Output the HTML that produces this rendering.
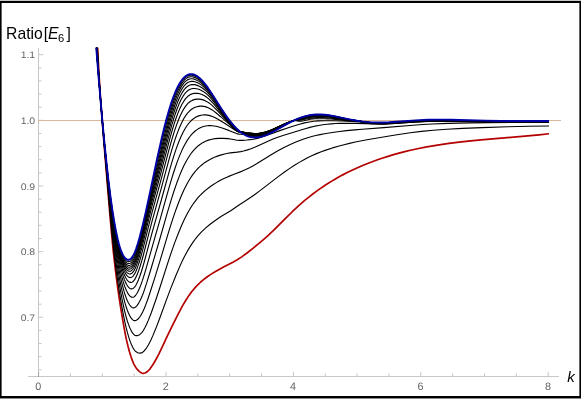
<!DOCTYPE html>
<html><head><meta charset="utf-8"><title>Ratio[E6]</title>
<style>
html,body{margin:0;padding:0;background:#fff;overflow:hidden}
body{width:581px;height:399px;position:relative;font-family:"Liberation Sans",sans-serif}
</style></head><body>
<svg width="581" height="399" viewBox="0 0 581 399" style="display:block;position:absolute;left:0;top:0;will-change:transform">
<rect x="0" y="0" width="581" height="399" fill="#fff"/>
<g stroke="#666" stroke-opacity="0.37" stroke-width="1" fill="none" shape-rendering="crispEdges">
<line x1="28" y1="376.5" x2="559" y2="376.5"/>
<line x1="38.5" y1="48" x2="38.5" y2="376.5"/>
</g>
<g stroke="#666" stroke-opacity="0.37" stroke-width="1" fill="none">
<line x1="38.60" y1="376.0" x2="38.60" y2="371.8"/>
<line x1="70.45" y1="376.0" x2="70.45" y2="373.4"/>
<line x1="102.30" y1="376.0" x2="102.30" y2="373.4"/>
<line x1="134.15" y1="376.0" x2="134.15" y2="373.4"/>
<line x1="166.00" y1="376.0" x2="166.00" y2="371.8"/>
<line x1="197.85" y1="376.0" x2="197.85" y2="373.4"/>
<line x1="229.70" y1="376.0" x2="229.70" y2="373.4"/>
<line x1="261.55" y1="376.0" x2="261.55" y2="373.4"/>
<line x1="293.40" y1="376.0" x2="293.40" y2="371.8"/>
<line x1="325.25" y1="376.0" x2="325.25" y2="373.4"/>
<line x1="357.10" y1="376.0" x2="357.10" y2="373.4"/>
<line x1="388.95" y1="376.0" x2="388.95" y2="373.4"/>
<line x1="420.80" y1="376.0" x2="420.80" y2="371.8"/>
<line x1="452.65" y1="376.0" x2="452.65" y2="373.4"/>
<line x1="484.50" y1="376.0" x2="484.50" y2="373.4"/>
<line x1="516.35" y1="376.0" x2="516.35" y2="373.4"/>
<line x1="548.20" y1="376.0" x2="548.20" y2="371.8"/>
<line x1="39.0" y1="369.82" x2="41.6" y2="369.82"/>
<line x1="39.0" y1="356.69" x2="41.6" y2="356.69"/>
<line x1="39.0" y1="343.56" x2="41.6" y2="343.56"/>
<line x1="39.0" y1="330.43" x2="41.6" y2="330.43"/>
<line x1="39.0" y1="317.30" x2="43.2" y2="317.30"/>
<line x1="39.0" y1="304.17" x2="41.6" y2="304.17"/>
<line x1="39.0" y1="291.04" x2="41.6" y2="291.04"/>
<line x1="39.0" y1="277.91" x2="41.6" y2="277.91"/>
<line x1="39.0" y1="264.78" x2="41.6" y2="264.78"/>
<line x1="39.0" y1="251.65" x2="43.2" y2="251.65"/>
<line x1="39.0" y1="238.52" x2="41.6" y2="238.52"/>
<line x1="39.0" y1="225.39" x2="41.6" y2="225.39"/>
<line x1="39.0" y1="212.26" x2="41.6" y2="212.26"/>
<line x1="39.0" y1="199.13" x2="41.6" y2="199.13"/>
<line x1="39.0" y1="186.00" x2="43.2" y2="186.00"/>
<line x1="39.0" y1="172.87" x2="41.6" y2="172.87"/>
<line x1="39.0" y1="159.74" x2="41.6" y2="159.74"/>
<line x1="39.0" y1="146.61" x2="41.6" y2="146.61"/>
<line x1="39.0" y1="133.48" x2="41.6" y2="133.48"/>
<line x1="39.0" y1="120.35" x2="43.2" y2="120.35"/>
<line x1="39.0" y1="107.22" x2="41.6" y2="107.22"/>
<line x1="39.0" y1="94.09" x2="41.6" y2="94.09"/>
<line x1="39.0" y1="80.96" x2="41.6" y2="80.96"/>
<line x1="39.0" y1="67.83" x2="41.6" y2="67.83"/>
<line x1="39.0" y1="54.70" x2="43.2" y2="54.70"/>
</g>
<line x1="38" y1="120.5" x2="561" y2="120.5" stroke="#d8b898" stroke-width="1" shape-rendering="crispEdges"/>
<g fill="none" stroke-linejoin="round" stroke-linecap="butt">
<path d="M97.67,47.70 L98.30,61.29 L99.10,75.88 L100.05,91.02 L101.15,106.84 L103.60,138.58 L109.20,206.50 L111.30,230.76 L113.25,250.82 L115.25,268.75 L117.45,285.84 L118.95,296.33 L120.60,307.10 L122.45,318.43 L124.15,328.21 L125.45,335.01 L126.70,340.86 L128.00,346.27 L129.40,351.45 L130.95,356.53 L132.30,360.40 L133.65,363.59 L135.10,366.32 L135.95,367.65 L136.85,368.87 L137.75,369.93 L138.75,370.95 L139.85,371.90 L140.80,372.58 L141.65,373.02 L142.50,373.28 L143.65,373.30 L144.95,372.96 L146.35,372.24 L147.75,371.21 L149.00,370.02 L150.20,368.61 L151.45,366.87 L153.15,364.26 L155.80,359.76 L158.55,354.54 L161.10,349.29 L167.15,336.31 L171.50,327.34 L178.00,314.31 L182.35,306.16 L186.15,299.76 L188.05,296.84 L189.95,294.12 L191.85,291.58 L193.80,289.16 L195.80,286.87 L197.80,284.76 L200.70,282.00 L203.85,279.35 L207.30,276.75 L211.15,274.14 L215.10,271.70 L219.50,269.18 L224.00,266.76 L232.90,262.14 L237.25,259.71 L241.75,256.85 L247.00,252.99 L253.50,247.87 L259.00,243.41 L264.00,239.21 L268.00,235.68 L273.75,230.22 L285.75,218.11 L292.00,211.99 L298.75,205.69 L304.75,200.45 L311.75,194.80 L318.75,189.61 L326.25,184.52 L333.75,179.89 L338.25,177.31 L342.75,174.87 L347.25,172.56 L352.00,170.25 L357.00,167.96 L362.00,165.79 L367.00,163.74 L372.25,161.71 L377.50,159.80 L382.75,158.01 L388.00,156.33 L393.50,154.68 L399.00,153.15 L404.75,151.65 L410.50,150.27 L416.25,148.99 L426.75,146.90 L437.50,145.06 L449.00,143.37 L461.25,141.85 L470.75,140.82 L481.00,139.83 L527.75,135.87 L539.00,134.82 L549.00,133.77" stroke="#b40000" stroke-width="1.7"/>
<path d="M97.37,47.70 L98.45,68.07 L99.95,90.85 L102.35,122.54 L105.00,154.73 L109.45,206.72 L111.55,229.60 L113.90,251.95 L115.10,262.00 L116.35,271.59 L117.65,280.75 L119.05,289.89 L120.55,299.00 L122.10,307.80 L123.60,315.81 L124.90,322.20 L126.20,327.90 L127.50,332.91 L128.90,337.62 L130.35,341.85 L131.75,345.36 L133.10,348.09 L134.40,350.06 L135.10,350.88 L135.80,351.55 L136.55,352.11 L137.30,352.54 L138.10,352.86 L138.90,353.06 L140.25,353.13 L141.45,352.88 L142.60,352.30 L143.80,351.30 L145.20,349.71 L146.75,347.56 L148.30,345.04 L149.80,342.24 L151.15,339.42 L152.95,335.38 L156.45,326.92 L159.65,318.54 L166.50,299.64 L170.65,288.63 L175.80,275.71 L180.15,265.60 L182.35,260.87 L184.50,256.53 L186.65,252.48 L188.85,248.64 L191.05,245.09 L193.25,241.83 L195.50,238.78 L197.85,235.88 L201.30,232.11 L205.20,228.40 L209.80,224.53 L214.85,220.70 L218.10,218.44 L221.40,216.31 L231.10,210.56 L239.40,204.76 L245.25,201.04 L249.75,198.03 L254.50,194.70 L260.00,190.67 L278.25,176.64 L285.25,171.48 L289.75,168.38 L294.50,165.30 L299.25,162.37 L303.50,159.93 L308.00,157.54 L312.25,155.49 L316.50,153.62 L321.25,151.74 L326.50,149.86 L332.50,147.91 L338.25,146.21 L344.00,144.67 L349.50,143.34 L355.25,142.07 L367.00,139.80 L393.75,135.30 L410.25,132.80 L421.50,131.40 L433.25,130.26 L446.75,129.26 L462.50,128.38 L482.25,127.57 L507.75,126.77 L528.50,126.29 L549.00,126.02" stroke="#000" stroke-width="1.12"/>
<path d="M97.26,47.70 L98.30,66.78 L99.80,89.18 L102.10,119.14 L104.45,147.40 L108.70,195.64 L110.90,219.20 L113.15,240.51 L115.40,258.70 L117.75,274.81 L120.35,290.10 L121.80,297.73 L123.35,305.30 L124.65,311.11 L125.85,315.87 L127.10,320.23 L128.40,324.15 L129.75,327.62 L131.15,330.63 L132.35,332.70 L133.55,334.21 L134.15,334.76 L134.75,335.17 L135.35,335.45 L136.00,335.62 L136.70,335.67 L137.45,335.58 L138.20,335.36 L138.95,335.01 L139.75,334.52 L140.55,333.89 L142.00,332.37 L143.35,330.45 L144.85,327.81 L146.50,324.46 L148.30,320.39 L151.30,312.70 L155.95,299.52 L159.75,288.05 L168.45,260.82 L171.65,251.36 L174.75,242.66 L178.15,233.70 L181.35,225.97 L184.50,219.10 L187.65,212.98 L190.95,207.33 L192.60,204.79 L194.30,202.37 L196.05,200.06 L197.80,197.93 L199.60,195.92 L201.45,194.02 L203.55,192.04 L205.75,190.14 L208.15,188.23 L210.75,186.31 L213.35,184.52 L215.95,182.86 L218.60,181.30 L221.30,179.85 L224.55,178.25 L228.15,176.64 L233.45,174.44 L242.25,171.11 L245.75,169.57 L249.50,167.75 L253.25,165.74 L257.00,163.56 L270.75,154.95 L277.00,151.24 L283.50,147.72 L290.25,144.50 L295.25,142.36 L299.75,140.55 L303.75,139.07 L307.75,137.74 L311.75,136.56 L315.75,135.54 L320.00,134.62 L324.50,133.77 L332.25,132.52 L339.50,131.50 L346.50,130.67 L354.75,129.86 L362.25,129.23 L383.75,127.63 L413.00,125.21 L422.75,124.52 L432.00,123.98 L448.00,123.35 L469.50,122.89 L523.00,122.21 L536.50,122.15 L549.00,122.21" stroke="#000" stroke-width="1.12"/>
<path d="M97.14,47.70 L98.25,67.17 L99.75,88.93 L102.10,118.94 L104.45,146.63 L108.15,187.44 L110.55,212.38 L112.70,232.25 L114.90,249.75 L117.10,264.62 L119.50,278.43 L120.80,285.06 L122.15,291.40 L123.55,297.44 L124.80,302.31 L125.95,306.24 L127.15,309.79 L128.35,312.83 L129.60,315.46 L130.85,317.61 L132.05,319.17 L133.20,320.17 L133.80,320.47 L134.35,320.63 L135.00,320.65 L135.65,320.53 L136.30,320.26 L137.00,319.84 L137.75,319.24 L138.50,318.50 L140.05,316.57 L141.45,314.36 L142.80,311.78 L144.25,308.52 L145.90,304.37 L147.70,299.46 L149.65,293.80 L154.75,277.94 L159.75,261.71 L168.05,233.80 L170.60,225.61 L172.95,218.39 L175.95,209.68 L178.80,202.03 L181.55,195.29 L184.25,189.33 L187.25,183.48 L188.80,180.76 L190.35,178.24 L191.90,175.90 L193.50,173.69 L195.10,171.66 L196.75,169.74 L198.45,167.95 L200.15,166.32 L201.95,164.76 L203.80,163.32 L205.75,161.95 L207.80,160.66 L210.00,159.42 L212.25,158.28 L215.15,156.99 L218.15,155.86 L221.35,154.85 L224.75,153.96 L227.95,153.27 L230.35,152.86 L237.20,152.14 L240.75,151.64 L243.50,151.04 L246.75,150.15 L251.00,148.75 L255.25,147.08 L259.25,145.31 L268.50,141.00 L273.00,139.08 L277.75,137.27 L283.00,135.48 L304.25,128.94 L310.75,127.12 L314.75,126.17 L318.50,125.44 L322.75,124.76 L327.00,124.24 L331.25,123.83 L335.75,123.53 L340.25,123.34 L345.00,123.25 L356.00,123.35 L374.75,123.84 L380.50,123.87 L385.75,123.79 L395.00,123.40 L412.50,122.28 L420.00,121.87 L428.50,121.56 L437.25,121.40 L452.50,121.39 L494.75,121.78 L532.50,121.80 L549.00,121.90" stroke="#000" stroke-width="1.12"/>
<path d="M97.02,47.70 L98.20,67.49 L99.75,89.32 L102.15,119.36 L104.50,146.50 L107.65,180.40 L110.20,206.16 L112.35,225.54 L114.50,242.30 L116.65,256.56 L118.95,269.46 L120.15,275.38 L121.40,281.01 L122.70,286.35 L124.00,291.18 L125.10,294.80 L126.20,297.93 L127.35,300.73 L128.50,303.06 L129.70,305.00 L130.90,306.47 L132.05,307.41 L132.65,307.71 L133.20,307.85 L133.80,307.87 L134.35,307.75 L134.95,307.48 L135.55,307.08 L136.80,305.84 L138.20,303.92 L139.60,301.51 L141.05,298.55 L142.45,295.24 L143.90,291.33 L146.85,282.41 L150.80,269.50 L158.75,242.73 L167.50,212.18 L171.65,198.36 L174.25,190.29 L176.75,183.06 L179.15,176.65 L181.55,170.82 L184.20,165.08 L186.90,159.99 L189.70,155.49 L191.10,153.50 L192.55,151.62 L194.05,149.86 L195.55,148.27 L197.10,146.80 L198.70,145.44 L200.35,144.20 L202.00,143.11 L203.70,142.14 L205.50,141.26 L208.50,140.11 L211.70,139.24 L215.05,138.67 L218.60,138.38 L223.15,138.36 L228.15,138.67 L230.50,138.99 L236.10,140.07 L237.90,140.27 L239.85,140.37 L242.50,140.34 L246.75,140.06 L250.25,139.68 L253.25,139.22 L258.25,138.11 L263.50,136.57 L268.50,134.84 L280.50,130.37 L286.00,128.41 L292.00,126.44 L299.50,124.19 L304.50,122.90 L309.25,121.93 L313.75,121.29 L318.25,120.93 L324.50,120.74 L332.75,120.80 L341.75,121.04 L352.75,121.51 L356.50,121.75 L359.50,122.05 L368.25,123.33 L371.75,123.75 L375.75,124.03 L380.25,124.15 L385.25,124.08 L391.50,123.77 L412.75,122.15 L420.75,121.64 L428.75,121.30 L436.75,121.14 L444.00,121.11 L452.50,121.20 L486.25,121.93 L501.50,122.16 L517.75,122.25 L549.00,122.27" stroke="#000" stroke-width="1.12"/>
<path d="M96.91,47.70 L98.15,67.71 L99.80,90.31 L102.20,119.79 L104.55,146.45 L107.35,175.96 L109.90,201.04 L112.00,219.55 L114.10,235.67 L116.15,249.13 L118.35,261.35 L119.50,266.94 L120.65,272.02 L121.80,276.63 L123.05,281.16 L124.15,284.72 L125.25,287.83 L126.40,290.56 L127.55,292.84 L128.70,294.63 L129.85,295.98 L131.00,296.87 L131.55,297.13 L132.10,297.28 L132.70,297.31 L133.25,297.22 L133.80,296.99 L134.35,296.64 L135.50,295.50 L136.75,293.71 L138.10,291.27 L139.50,288.24 L140.95,284.62 L142.45,280.40 L144.20,274.90 L146.50,267.08 L152.85,244.65 L160.40,218.44 L167.25,193.85 L170.65,182.09 L173.05,174.27 L175.35,167.26 L177.60,160.92 L179.75,155.37 L182.25,149.60 L184.70,144.68 L187.20,140.39 L189.75,136.74 L191.05,135.13 L192.40,133.63 L193.80,132.25 L195.20,131.03 L196.70,129.88 L198.25,128.86 L199.80,127.99 L201.35,127.26 L202.80,126.71 L204.30,126.27 L205.80,125.94 L207.35,125.72 L208.95,125.61 L210.55,125.62 L212.25,125.73 L214.00,125.96 L215.95,126.32 L218.05,126.82 L222.95,128.30 L228.75,130.40 L235.95,133.32 L237.70,133.87 L239.05,134.08 L242.00,134.27 L246.50,135.04 L250.00,135.28 L253.75,135.73 L255.50,135.79 L258.50,135.55 L261.50,135.00 L264.75,134.08 L268.00,132.90 L273.00,130.65 L286.50,123.76 L291.00,121.54 L292.75,120.84 L293.75,120.61 L294.75,120.56 L298.75,121.13 L300.00,121.19 L301.25,121.13 L303.75,120.74 L310.25,119.23 L312.50,118.92 L314.75,118.76 L317.75,118.69 L324.25,118.73 L327.75,118.83 L331.00,119.02 L347.00,120.68 L356.75,121.24 L359.50,121.47 L362.25,121.82 L369.00,122.85 L372.50,123.25 L376.25,123.52 L380.00,123.64 L385.25,123.60 L391.75,123.30 L413.00,121.70 L421.00,121.21 L428.50,120.90 L436.25,120.75 L443.50,120.74 L451.75,120.85 L485.25,121.72 L501.00,122.00 L518.25,122.11 L549.00,122.10" stroke="#000" stroke-width="1.12"/>
<path d="M96.80,47.70 L98.15,68.51 L99.85,91.20 L102.20,119.65 L104.55,145.95 L107.10,172.40 L109.60,196.49 L111.70,214.67 L113.75,230.20 L115.75,243.22 L117.80,254.56 L119.95,264.51 L121.05,268.90 L122.20,273.01 L123.35,276.68 L124.45,279.76 L125.55,282.37 L126.65,284.51 L127.80,286.31 L128.90,287.58 L130.05,288.46 L130.60,288.72 L131.15,288.87 L131.75,288.90 L132.35,288.80 L132.95,288.56 L133.50,288.22 L134.60,287.13 L135.75,285.45 L137.00,283.09 L138.40,279.92 L139.80,276.26 L141.25,271.99 L142.65,267.47 L144.15,262.23 L152.25,232.15 L160.85,201.75 L169.85,169.09 L172.15,161.31 L174.25,154.63 L176.35,148.43 L178.35,143.02 L180.70,137.31 L183.00,132.42 L185.30,128.26 L187.60,124.80 L188.80,123.25 L190.05,121.81 L191.30,120.54 L192.55,119.43 L193.85,118.44 L195.20,117.55 L196.60,116.79 L198.10,116.12 L199.60,115.59 L201.10,115.21 L202.65,114.96 L204.20,114.86 L205.75,114.90 L207.35,115.08 L208.95,115.40 L210.60,115.87 L212.35,116.50 L214.25,117.32 L218.45,119.54 L224.95,123.53 L233.70,129.27 L234.85,129.94 L235.95,130.45 L239.50,131.74 L243.00,133.14 L244.75,133.66 L246.50,133.90 L250.25,133.96 L253.50,134.43 L255.00,134.53 L257.75,134.37 L261.25,133.80 L264.50,133.00 L268.00,131.85 L270.50,130.87 L273.00,129.77 L281.75,125.56 L286.00,123.61 L291.00,121.40 L292.75,120.77 L293.75,120.54 L294.50,120.47 L297.50,120.55 L298.75,120.46 L310.00,118.28 L313.50,117.83 L317.00,117.58 L319.75,117.51 L322.75,117.56 L329.00,117.97 L334.00,118.52 L347.50,120.25 L359.75,121.41 L371.00,122.88 L375.50,123.27 L380.00,123.46 L385.25,123.43 L391.50,123.15 L413.00,121.54 L421.00,121.04 L428.50,120.74 L436.25,120.59 L443.50,120.60 L451.50,120.72 L485.25,121.63 L501.00,121.92 L518.50,122.04 L549.00,122.02" stroke="#000" stroke-width="1.12"/>
<path d="M96.71,47.70 L98.10,68.44 L99.90,92.02 L102.25,120.11 L104.55,145.56 L106.95,170.14 L109.35,192.88 L111.40,210.40 L113.45,225.79 L115.40,238.42 L117.40,249.46 L119.45,258.92 L120.50,263.10 L121.60,267.01 L122.70,270.48 L123.80,273.52 L124.85,276.01 L125.85,277.97 L127.00,279.78 L128.10,281.08 L129.25,281.97 L129.85,282.25 L130.40,282.40 L131.00,282.43 L131.55,282.34 L132.15,282.10 L132.75,281.74 L133.85,280.71 L134.95,279.13 L136.15,276.85 L137.45,273.84 L138.80,270.23 L140.25,265.85 L141.85,260.50 L143.50,254.50 L149.45,231.23 L152.50,219.69 L161.10,188.87 L169.25,158.67 L171.40,151.14 L173.40,144.54 L175.30,138.70 L177.20,133.33 L179.40,127.72 L181.55,122.91 L183.70,118.78 L185.85,115.34 L186.95,113.84 L188.05,112.51 L189.20,111.29 L190.35,110.22 L191.55,109.26 L192.75,108.46 L194.00,107.78 L195.30,107.21 L196.85,106.71 L198.50,106.35 L200.10,106.17 L201.75,106.16 L203.35,106.32 L205.00,106.65 L206.60,107.13 L208.25,107.79 L210.00,108.67 L211.85,109.78 L213.80,111.12 L215.95,112.76 L220.35,116.45 L233.35,127.93 L235.35,129.54 L236.90,130.57 L237.80,131.01 L238.70,131.32 L241.75,131.84 L246.00,133.00 L250.00,133.36 L253.25,133.82 L254.50,133.93 L257.25,133.83 L260.75,133.34 L264.00,132.60 L267.50,131.54 L270.25,130.52 L273.00,129.36 L282.25,125.07 L286.50,123.19 L290.75,121.47 L293.00,120.72 L294.75,120.36 L297.75,120.06 L299.50,119.79 L307.25,117.96 L310.00,117.40 L313.00,117.00 L316.00,116.80 L319.00,116.75 L322.50,116.82 L326.00,117.01 L329.25,117.29 L334.75,117.97 L349.00,120.12 L360.00,121.39 L368.75,122.51 L374.75,123.12 L380.25,123.40 L385.25,123.37 L391.25,123.09 L412.75,121.48 L420.75,120.98 L428.25,120.67 L436.00,120.52 L443.25,120.52 L451.25,120.64 L485.00,121.57 L501.00,121.88 L518.75,122.00 L549.00,121.96" stroke="#000" stroke-width="1.12"/>
<path d="M96.64,47.70 L98.10,68.93 L99.95,92.78 L102.30,120.60 L104.55,145.26 L106.85,168.58 L109.15,190.10 L111.20,207.42 L113.20,222.32 L115.15,234.90 L117.10,245.63 L119.15,255.05 L120.15,259.00 L121.20,262.70 L122.25,265.97 L123.35,268.98 L124.40,271.43 L125.40,273.36 L126.55,275.10 L127.65,276.36 L128.70,277.13 L129.80,277.54 L130.40,277.57 L131.00,277.47 L131.55,277.26 L132.15,276.89 L132.75,276.40 L133.35,275.76 L134.45,274.19 L135.60,271.98 L136.85,269.03 L138.25,265.18 L139.60,260.99 L141.25,255.32 L143.05,248.57 L149.10,224.05 L152.20,211.97 L161.20,179.14 L168.80,150.37 L170.90,142.81 L172.80,136.33 L174.60,130.62 L176.40,125.35 L178.50,119.81 L180.55,115.05 L182.60,110.96 L184.60,107.62 L186.65,104.87 L187.70,103.70 L188.75,102.70 L189.85,101.80 L191.00,101.01 L192.15,100.38 L193.30,99.89 L195.10,99.37 L197.05,99.10 L199.10,99.10 L201.10,99.35 L203.10,99.87 L205.05,100.63 L207.00,101.64 L209.00,102.93 L211.80,105.15 L214.90,108.05 L218.10,111.37 L226.90,120.96 L232.60,127.01 L235.30,129.62 L236.35,130.45 L237.25,131.03 L238.00,131.38 L238.80,131.60 L242.00,131.83 L246.25,132.82 L250.00,133.11 L254.25,133.63 L257.00,133.58 L260.25,133.17 L263.75,132.42 L267.25,131.38 L270.25,130.30 L273.50,128.96 L286.75,122.96 L290.00,121.71 L292.75,120.84 L295.00,120.28 L300.50,119.11 L306.50,117.56 L309.25,116.94 L312.50,116.43 L316.00,116.17 L319.00,116.13 L322.50,116.22 L325.75,116.41 L329.00,116.72 L334.50,117.48 L349.00,119.90 L359.75,121.27 L367.75,122.38 L373.75,123.02 L379.50,123.32 L384.75,123.31 L391.25,123.03 L413.25,121.40 L421.25,120.90 L428.75,120.61 L436.25,120.47 L443.25,120.47 L451.25,120.59 L485.00,121.53 L500.75,121.83 L518.50,121.95 L549.00,121.92" stroke="#000" stroke-width="1.12"/>
<path d="M96.58,47.70 L98.10,69.30 L100.00,93.50 L102.30,120.52 L104.55,145.03 L106.80,167.66 L109.05,188.49 L111.05,205.21 L113.05,220.00 L114.95,232.19 L116.90,242.89 L118.90,252.06 L119.90,255.99 L120.90,259.50 L121.90,262.60 L123.00,265.58 L124.05,268.00 L125.10,270.00 L126.15,271.56 L127.30,272.84 L128.30,273.56 L129.40,273.94 L130.00,273.97 L130.60,273.87 L131.20,273.62 L131.80,273.23 L132.45,272.66 L133.05,272.00 L134.20,270.31 L135.35,268.03 L136.55,265.11 L137.90,261.30 L139.25,257.02 L140.95,251.03 L142.80,243.92 L148.95,218.33 L152.05,205.96 L154.80,195.51 L161.20,171.86 L168.50,143.61 L170.50,136.21 L172.35,129.73 L174.05,124.18 L175.75,119.05 L177.75,113.60 L179.75,108.81 L181.70,104.78 L183.65,101.41 L185.60,98.69 L186.60,97.54 L187.60,96.55 L188.65,95.67 L189.70,94.95 L190.75,94.36 L191.85,93.90 L193.65,93.42 L195.55,93.24 L197.70,93.38 L199.85,93.82 L201.95,94.54 L204.00,95.52 L206.05,96.79 L208.10,98.34 L210.75,100.76 L213.70,103.91 L217.20,108.09 L226.35,119.55 L231.05,125.18 L234.65,129.19 L235.90,130.37 L236.95,131.16 L237.80,131.60 L238.65,131.84 L239.40,131.88 L241.25,131.74 L242.00,131.78 L246.25,132.88 L250.25,133.09 L254.00,133.63 L256.25,133.65 L259.00,133.36 L262.00,132.82 L265.25,132.01 L268.25,131.05 L271.25,129.91 L274.75,128.40 L285.25,123.62 L288.75,122.20 L292.00,121.07 L295.25,120.11 L308.00,116.75 L312.00,116.03 L316.00,115.69 L319.00,115.65 L322.25,115.74 L325.50,115.96 L328.75,116.30 L334.25,117.10 L347.50,119.47 L354.50,120.54 L370.25,122.62 L375.00,123.06 L379.50,123.28 L384.75,123.28 L391.00,123.01 L413.25,121.35 L421.25,120.86 L428.50,120.57 L436.00,120.43 L443.25,120.43 L451.25,120.55 L485.00,121.49 L501.00,121.79 L518.75,121.91 L549.00,121.88" stroke="#000" stroke-width="1.12"/>
<path d="M96.53,47.70 L98.15,70.25 L100.10,94.79 L102.40,121.59 L104.60,145.37 L106.80,167.33 L108.95,187.05 L110.95,203.65 L112.90,217.98 L114.80,230.15 L116.75,240.82 L118.70,249.74 L119.70,253.67 L120.70,257.17 L121.70,260.25 L122.75,263.06 L123.80,265.46 L124.80,267.35 L125.85,268.91 L127.00,270.16 L128.00,270.88 L129.05,271.24 L129.65,271.27 L130.25,271.17 L130.85,270.94 L131.45,270.56 L132.10,269.99 L132.75,269.28 L134.00,267.44 L135.15,265.12 L136.35,262.15 L137.70,258.27 L139.10,253.75 L140.80,247.64 L142.70,240.20 L149.00,213.52 L152.10,200.90 L161.10,166.50 L168.20,138.41 L171.95,124.57 L173.60,119.04 L175.25,113.95 L177.20,108.51 L179.10,103.84 L181.00,99.81 L182.90,96.43 L184.80,93.70 L185.75,92.57 L186.70,91.60 L187.70,90.74 L188.70,90.04 L189.75,89.45 L190.80,89.00 L192.60,88.55 L194.55,88.46 L196.60,88.72 L198.85,89.33 L201.00,90.22 L203.15,91.41 L205.30,92.92 L207.40,94.69 L208.90,96.14 L210.40,97.74 L213.75,101.77 L216.75,105.74 L225.45,117.69 L231.15,125.03 L234.45,128.93 L235.60,130.09 L236.60,130.91 L237.65,131.52 L238.65,131.82 L239.45,131.89 L241.75,131.85 L242.75,132.04 L246.25,132.98 L250.25,133.31 L253.75,133.80 L256.00,133.84 L259.00,133.55 L262.00,133.01 L265.25,132.18 L268.25,131.21 L271.50,129.95 L275.00,128.42 L285.50,123.57 L288.50,122.33 L291.50,121.26 L301.50,118.13 L306.75,116.70 L309.25,116.16 L311.75,115.74 L314.00,115.48 L316.50,115.31 L319.25,115.27 L322.00,115.35 L325.00,115.57 L328.00,115.90 L334.75,116.94 L349.50,119.67 L356.75,120.79 L365.25,121.99 L370.00,122.58 L374.75,123.01 L379.25,123.23 L383.75,123.26 L389.00,123.07 L395.75,122.66 L411.50,121.43 L418.75,120.95 L427.25,120.57 L436.00,120.39 L443.25,120.39 L451.25,120.51 L485.00,121.45 L501.00,121.75 L518.75,121.87 L549.00,121.84" stroke="#000" stroke-width="1.12"/>
<path d="M96.48,47.70 L98.15,70.50 L100.15,95.45 L102.40,121.54 L104.60,145.21 L106.75,166.57 L108.85,185.73 L110.85,202.23 L112.80,216.50 L114.70,228.62 L116.60,239.00 L118.55,247.92 L119.50,251.65 L120.50,255.16 L121.50,258.24 L122.55,261.04 L123.60,263.42 L124.60,265.30 L125.65,266.84 L126.75,268.01 L127.80,268.77 L128.80,269.10 L129.45,269.13 L130.05,269.03 L130.70,268.76 L131.30,268.37 L132.00,267.73 L132.65,266.98 L133.90,265.09 L135.05,262.74 L136.30,259.59 L137.70,255.48 L139.10,250.87 L140.85,244.48 L142.80,236.72 L149.25,209.05 L152.40,196.00 L161.00,162.18 L167.80,134.70 L171.55,120.58 L173.20,114.94 L174.85,109.76 L176.75,104.37 L178.60,99.75 L180.50,95.67 L182.35,92.33 L184.20,89.63 L185.15,88.49 L186.10,87.51 L187.05,86.69 L188.05,85.98 L189.05,85.43 L190.05,85.01 L191.85,84.59 L193.70,84.55 L195.70,84.88 L197.90,85.60 L200.15,86.66 L202.35,88.01 L204.55,89.69 L206.70,91.64 L208.20,93.18 L209.75,94.93 L213.05,99.13 L216.10,103.40 L224.50,115.62 L229.75,122.76 L232.00,125.62 L233.90,127.88 L235.45,129.54 L236.70,130.65 L237.65,131.27 L238.55,131.64 L239.45,131.80 L241.25,131.87 L242.00,131.98 L245.25,133.04 L246.25,133.29 L250.25,133.68 L253.75,134.20 L256.00,134.25 L259.00,133.94 L262.25,133.32 L265.50,132.45 L268.75,131.34 L272.25,129.91 L283.75,124.50 L287.75,122.74 L291.00,121.48 L298.00,119.06 L303.50,117.30 L308.00,116.15 L312.25,115.40 L316.50,115.04 L319.25,115.00 L322.00,115.10 L325.00,115.32 L328.00,115.66 L334.75,116.74 L350.00,119.67 L358.00,120.93 L365.00,121.94 L370.00,122.55 L374.50,122.96 L379.00,123.18 L383.75,123.21 L389.00,123.03 L395.75,122.61 L411.50,121.39 L419.00,120.89 L427.50,120.52 L436.25,120.34 L443.25,120.35 L451.25,120.47 L485.00,121.40 L500.75,121.70 L518.50,121.83 L549.00,121.79" stroke="#000" stroke-width="1.12"/>
<path d="M96.44,47.70 L98.20,71.37 L100.25,96.70 L102.45,122.05 L104.60,145.07 L106.70,165.84 L108.80,184.88 L110.75,200.88 L112.70,215.09 L114.60,227.18 L116.50,237.54 L118.40,246.22 L119.35,249.96 L120.35,253.46 L121.35,256.54 L122.35,259.19 L123.40,261.57 L124.40,263.44 L125.45,264.99 L126.50,266.10 L127.60,266.90 L128.60,267.24 L129.25,267.27 L129.90,267.15 L130.55,266.88 L131.15,266.48 L131.80,265.89 L132.50,265.09 L133.80,263.11 L135.00,260.64 L136.25,257.45 L137.70,253.14 L139.15,248.32 L140.85,242.05 L142.70,234.67 L152.30,193.38 L167.15,132.71 L169.15,124.84 L171.00,117.94 L172.70,112.03 L174.35,106.75 L176.25,101.29 L178.10,96.61 L179.95,92.57 L181.80,89.18 L183.65,86.44 L184.55,85.34 L185.50,84.33 L186.45,83.49 L187.45,82.77 L188.45,82.20 L189.45,81.79 L191.20,81.39 L193.00,81.37 L194.90,81.72 L197.00,82.48 L199.25,83.62 L201.50,85.10 L203.70,86.86 L205.95,89.00 L207.50,90.66 L209.10,92.53 L212.40,96.88 L215.50,101.36 L223.80,113.85 L228.80,120.87 L231.25,124.05 L233.35,126.61 L235.10,128.54 L236.60,129.95 L237.80,130.82 L238.95,131.40 L242.00,132.25 L245.50,133.45 L247.50,133.90 L253.00,134.71 L255.50,134.82 L258.50,134.58 L261.75,134.00 L265.25,133.05 L268.50,131.91 L272.00,130.44 L283.75,124.73 L288.25,122.68 L291.75,121.27 L298.25,118.86 L303.25,117.20 L307.75,116.01 L312.00,115.24 L316.25,114.85 L319.00,114.80 L321.75,114.88 L324.75,115.11 L327.75,115.45 L334.50,116.55 L349.50,119.51 L357.25,120.77 L365.00,121.93 L369.50,122.50 L374.00,122.90 L378.50,123.13 L383.50,123.16 L389.25,122.97 L396.00,122.55 L411.75,121.33 L419.00,120.86 L427.50,120.48 L436.25,120.30 L443.25,120.30 L451.25,120.42 L485.00,121.36 L500.75,121.66 L518.50,121.78 L549.00,121.75" stroke="#000" stroke-width="1.12"/>
<path d="M96.39,47.70 L98.25,72.24 L100.35,97.94 L102.55,123.10 L104.65,145.44 L106.70,165.58 L108.75,184.05 L110.70,199.93 L112.60,213.70 L114.50,225.75 L116.40,236.08 L118.30,244.74 L119.25,248.46 L120.25,251.94 L121.20,254.85 L122.20,257.49 L123.25,259.85 L124.25,261.70 L125.25,263.16 L126.25,264.23 L127.35,265.05 L127.90,265.30 L128.40,265.42 L129.10,265.45 L129.75,265.33 L130.40,265.06 L131.05,264.62 L131.75,263.96 L132.45,263.14 L133.75,261.13 L134.95,258.64 L136.25,255.30 L137.75,250.80 L139.25,245.76 L141.15,238.67 L143.25,230.14 L153.60,185.05 L166.20,132.33 L168.35,123.74 L170.30,116.37 L172.10,110.03 L173.85,104.39 L175.75,98.89 L177.60,94.18 L179.45,90.12 L181.35,86.63 L183.20,83.88 L184.15,82.71 L185.10,81.71 L186.05,80.87 L187.00,80.18 L188.00,79.61 L189.00,79.20 L190.70,78.81 L192.45,78.80 L194.30,79.16 L196.30,79.92 L198.50,81.12 L200.70,82.63 L202.90,84.48 L205.15,86.69 L206.75,88.45 L208.35,90.37 L211.75,94.93 L214.95,99.65 L223.25,112.38 L228.15,119.37 L230.60,122.59 L232.90,125.40 L234.95,127.69 L236.70,129.39 L238.05,130.47 L239.45,131.32 L244.75,133.60 L246.25,134.09 L247.75,134.46 L252.75,135.32 L254.25,135.44 L255.50,135.45 L258.50,135.19 L261.75,134.59 L265.25,133.61 L268.50,132.42 L271.75,131.01 L283.00,125.34 L288.25,122.86 L293.00,120.83 L298.25,118.76 L303.25,117.06 L307.75,115.87 L312.00,115.10 L316.25,114.71 L319.00,114.66 L321.75,114.75 L324.75,114.97 L328.00,115.35 L334.50,116.43 L349.50,119.46 L357.00,120.72 L364.50,121.84 L369.00,122.42 L373.50,122.84 L378.25,123.08 L383.25,123.12 L389.00,122.93 L396.00,122.51 L411.75,121.29 L419.00,120.81 L427.50,120.43 L436.25,120.26 L443.25,120.26 L451.25,120.38 L485.00,121.32 L500.75,121.62 L518.50,121.74 L549.00,121.71" stroke="#000" stroke-width="1.12"/>
<path d="M96.34,47.70 L98.35,73.71 L100.45,99.16 L102.60,123.59 L104.65,145.29 L106.65,164.85 L108.65,182.78 L110.60,198.59 L112.50,212.30 L114.35,224.01 L116.25,234.36 L118.15,243.03 L119.10,246.74 L120.10,250.22 L121.05,253.12 L122.05,255.75 L123.10,258.08 L124.10,259.91 L125.05,261.28 L126.00,262.31 L127.15,263.15 L128.20,263.54 L128.90,263.57 L129.60,263.44 L130.30,263.14 L130.95,262.69 L131.60,262.08 L132.35,261.19 L133.70,259.08 L134.95,256.46 L136.30,252.94 L137.85,248.23 L139.35,243.15 L141.55,234.84 L144.00,224.70 L155.95,171.69 L164.70,134.34 L167.10,124.61 L169.25,116.38 L171.25,109.27 L173.15,103.09 L175.10,97.43 L177.00,92.58 L178.90,88.40 L180.80,84.89 L182.75,81.98 L183.70,80.80 L184.70,79.74 L185.65,78.89 L186.65,78.16 L187.65,77.59 L188.70,77.16 L190.40,76.78 L192.10,76.77 L193.90,77.14 L195.75,77.86 L197.80,79.01 L199.90,80.50 L202.05,82.36 L204.25,84.58 L205.90,86.44 L207.55,88.46 L211.00,93.14 L214.30,98.06 L222.80,111.24 L227.70,118.30 L230.20,121.60 L232.55,124.48 L234.75,126.94 L236.75,128.93 L238.35,130.30 L239.95,131.47 L241.75,132.56 L243.75,133.58 L245.75,134.39 L247.75,135.02 L250.00,135.56 L252.25,135.93 L255.25,136.10 L258.25,135.89 L261.50,135.30 L264.75,134.37 L267.75,133.26 L271.00,131.84 L274.50,130.11 L283.00,125.63 L287.50,123.37 L292.50,121.07 L298.00,118.80 L302.75,117.12 L307.25,115.87 L309.50,115.40 L311.75,115.02 L316.00,114.62 L318.75,114.56 L321.50,114.63 L324.50,114.85 L327.75,115.22 L333.50,116.16 L348.75,119.28 L357.25,120.74 L364.25,121.80 L369.00,122.40 L373.50,122.80 L378.00,123.03 L383.25,123.08 L389.00,122.89 L396.00,122.47 L411.75,121.25 L419.00,120.77 L427.50,120.39 L436.25,120.22 L443.25,120.22 L451.25,120.34 L485.00,121.28 L500.75,121.58 L518.50,121.70 L549.00,121.67" stroke="#000" stroke-width="1.12"/>
<path d="M96.29,47.70 L98.45,75.14 L100.55,100.36 L102.65,124.08 L104.65,145.14 L106.65,164.61 L108.60,181.97 L110.50,197.28 L112.40,210.92 L114.25,222.59 L116.15,232.90 L118.05,241.52 L119.00,245.22 L119.95,248.50 L120.90,251.38 L121.85,253.87 L122.90,256.19 L123.90,258.01 L124.85,259.37 L125.80,260.39 L126.95,261.21 L128.00,261.60 L128.75,261.62 L129.45,261.48 L130.15,261.17 L130.80,260.72 L131.45,260.11 L132.25,259.14 L133.65,256.94 L134.90,254.28 L136.30,250.60 L137.90,245.71 L139.45,240.41 L142.05,230.45 L144.90,218.39 L157.20,162.40 L163.10,136.74 L165.70,126.10 L168.00,117.24 L170.20,109.41 L172.30,102.61 L174.35,96.68 L176.35,91.61 L178.35,87.25 L180.35,83.59 L182.35,80.63 L183.35,79.40 L184.40,78.30 L185.40,77.41 L186.45,76.65 L187.50,76.06 L188.60,75.61 L190.05,75.27 L191.50,75.21 L193.00,75.41 L194.55,75.89 L196.15,76.64 L197.85,77.70 L199.55,79.00 L201.30,80.57 L203.00,82.30 L204.80,84.34 L206.65,86.63 L208.60,89.25 L212.50,94.94 L221.30,108.70 L225.40,114.84 L227.65,118.00 L229.85,120.91 L232.00,123.58 L234.10,126.00 L236.35,128.34 L238.50,130.31 L240.50,131.89 L242.75,133.36 L245.00,134.53 L247.50,135.54 L250.00,136.26 L252.25,136.66 L255.00,136.83 L258.00,136.63 L261.25,136.03 L264.50,135.06 L267.75,133.81 L271.50,132.09 L275.50,130.04 L284.50,125.14 L288.75,122.92 L293.25,120.77 L297.75,118.84 L302.50,117.12 L305.00,116.37 L307.25,115.80 L309.50,115.32 L311.75,114.96 L316.00,114.55 L318.75,114.49 L321.50,114.57 L324.50,114.78 L327.75,115.16 L334.50,116.30 L350.00,119.50 L357.75,120.81 L364.25,121.78 L369.00,122.38 L373.50,122.77 L378.00,122.99 L383.25,123.03 L389.00,122.85 L396.00,122.43 L411.75,121.21 L419.00,120.73 L427.50,120.35 L436.25,120.18 L443.25,120.18 L451.25,120.30 L485.00,121.24 L500.75,121.54 L518.50,121.66 L549.00,121.63" stroke="#000" stroke-width="1.12"/>
<path d="M96.26,47.70 L98.50,75.87 L100.65,101.54 L102.70,124.58 L104.65,145.04 L106.60,163.96 L108.50,180.83 L110.40,196.09 L112.30,209.69 L114.20,221.61 L116.05,231.58 L117.90,239.96 L118.85,243.65 L119.80,246.93 L120.75,249.80 L121.70,252.27 L122.70,254.45 L123.70,256.25 L124.70,257.67 L125.65,258.65 L126.75,259.39 L127.80,259.77 L128.55,259.79 L129.30,259.62 L130.00,259.30 L130.70,258.80 L131.40,258.11 L132.15,257.17 L133.55,254.94 L134.80,252.28 L136.20,248.58 L137.85,243.52 L139.45,238.03 L142.40,226.61 L145.75,212.14 L149.05,196.97 L157.35,157.67 L161.85,137.64 L164.30,127.54 L166.65,118.50 L168.85,110.71 L171.05,103.63 L173.25,97.31 L175.40,91.89 L177.55,87.20 L179.75,83.19 L180.85,81.47 L181.95,79.94 L183.05,78.60 L184.15,77.45 L185.25,76.47 L186.40,75.64 L187.55,75.00 L188.70,74.53 L190.10,74.20 L191.55,74.12 L193.00,74.30 L194.50,74.74 L196.00,75.44 L197.55,76.40 L199.15,77.64 L200.80,79.15 L202.40,80.83 L204.10,82.80 L205.90,85.09 L207.80,87.68 L211.85,93.68 L220.90,107.95 L225.10,114.31 L227.40,117.59 L229.55,120.49 L231.70,123.20 L233.75,125.61 L236.15,128.17 L238.55,130.44 L241.00,132.44 L243.25,133.99 L245.50,135.26 L247.75,136.24 L250.00,136.95 L252.50,137.42 L255.25,137.57 L258.25,137.33 L261.50,136.67 L264.75,135.65 L268.00,134.33 L271.50,132.65 L275.50,130.51 L284.50,125.38 L288.50,123.19 L293.00,120.93 L297.50,118.93 L302.25,117.15 L306.75,115.85 L309.00,115.35 L311.25,114.96 L313.50,114.68 L315.75,114.51 L318.50,114.44 L321.25,114.51 L324.25,114.72 L327.25,115.05 L334.00,116.16 L349.50,119.39 L357.00,120.72 L361.75,121.37 L366.25,121.85 L370.75,122.18 L375.50,122.39 L382.00,122.45 L389.00,122.25 L396.25,121.82 L412.00,120.61 L419.25,120.13 L427.75,119.76 L436.50,119.59 L443.50,119.59 L451.50,119.72 L485.00,120.65 L500.75,120.95 L518.25,121.07 L549.00,121.04" stroke="#0000a8" stroke-width="1.9"/>
</g>
<g font-family="Liberation Sans, sans-serif" font-size="9.5px" fill="#666" text-rendering="geometricPrecision">
<text x="38.3" y="389.8" font-size="10.8px" text-anchor="middle">0</text>
<text x="165.7" y="389.8" font-size="10.8px" text-anchor="middle">2</text>
<text x="293.1" y="389.8" font-size="10.8px" text-anchor="middle">4</text>
<text x="420.5" y="389.8" font-size="10.8px" text-anchor="middle">6</text>
<text x="547.9" y="389.8" font-size="10.8px" text-anchor="middle">8</text>
<text transform="translate(35.2,320.9) scale(1.1,1)" text-anchor="end">0.7</text>
<text transform="translate(35.2,255.2) scale(1.1,1)" text-anchor="end">0.8</text>
<text transform="translate(35.2,189.6) scale(1.1,1)" text-anchor="end">0.9</text>
<text transform="translate(35.2,123.9) scale(1.1,1)" text-anchor="end">1.0</text>
<text transform="translate(35.2,58.3) scale(1.1,1)" text-anchor="end">1.1</text>
</g>
<g font-family="Liberation Sans, sans-serif" fill="#000">
<text y="38.7" font-size="15.7px"><tspan x="6.1">Ratio</tspan><tspan x="43.8">[</tspan><tspan x="47.9" font-style="italic">E</tspan><tspan x="58.1" font-size="11.2px" dy="3.4">6</tspan><tspan x="66.6" dy="-3.4">]</tspan></text>
<text x="567.3" y="381.6" font-size="15px" font-style="italic">k</text>
</g>
<g shape-rendering="crispEdges">
<rect x="0" y="0" width="581" height="1" fill="#c8c8c8"/>
<rect x="0" y="1" width="581" height="2" fill="#000"/>
<rect x="0" y="396" width="581" height="2" fill="#000"/>
<rect x="0" y="398" width="581" height="1" fill="#8a8a8a"/>
<rect x="1" y="3" width="1" height="393" fill="#646464"/>
<rect x="0" y="1" width="1" height="397" fill="#000"/>
<rect x="579" y="3" width="1" height="393" fill="#646464"/>
<rect x="580" y="1" width="1" height="397" fill="#000"/>
</g>
</svg>
</body></html>
